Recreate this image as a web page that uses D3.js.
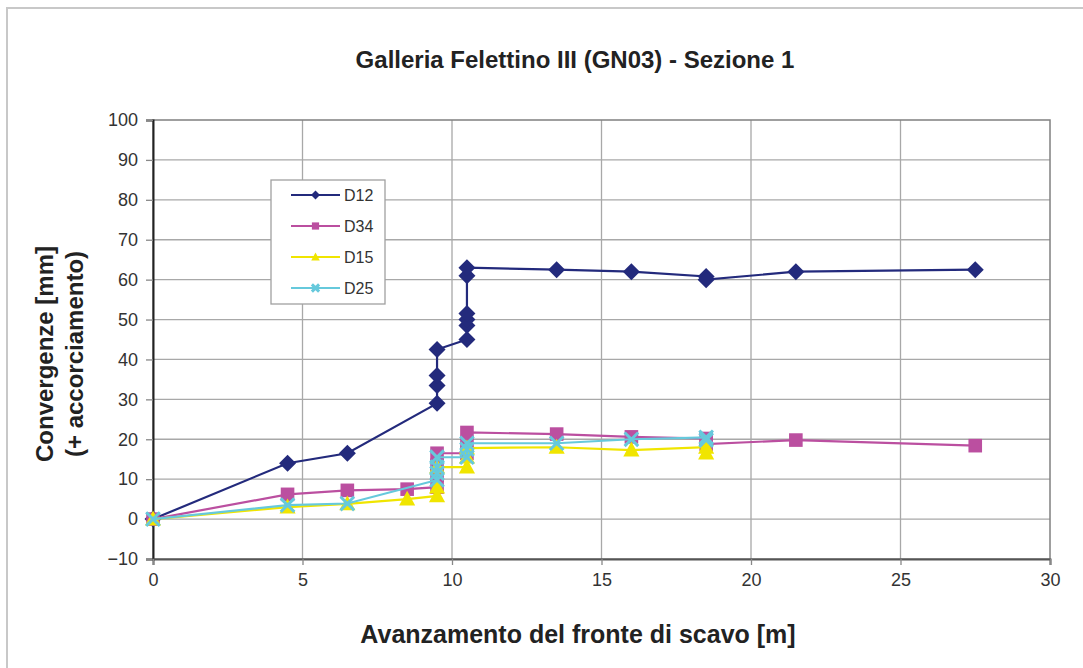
<!DOCTYPE html>
<html><head><meta charset="utf-8">
<script src="https://cdn.jsdelivr.net/npm/d3@7"></script>
<style>body{margin:0;background:#fff;}svg{display:block;font-family:"Liberation Sans",Arial,sans-serif;}</style>
</head><body>
<script>
const seriesNames = ["D12", "D34", "D15", "D25"];
const d12X = [0,4.5,6.5,9.5,9.5,9.5,9.5,10.5,10.5,10.5,10.5,10.5,10.5,13.5,16,18.5,18.5,21.5,27.5];
const d12Y = [0,14,16.5,29,33.5,36,42.5,45,48.5,50,51.5,61,63,62.5,62,60.8,60,62,62.5];
const d34X = [0,4.5,6.5,8.5,9.5,9.5,9.5,9.5,10.5,10.5,10.5,13.5,16,18.5,18.5,21.5,27.5];
const d34Y = [0,6.2,7.2,7.5,8,11,13.5,16.5,16.5,19,21.7,21.3,20.6,20.2,18.8,19.8,18.4];
const d15X = [0,4.5,6.5,8.5,9.5,9.5,9.5,10.5,10.5,10.5,13.5,16,18.5,18.5];
const d15Y = [0,3,3.8,5,5.8,8,13,13,15.5,17.8,18,17.3,18,16.5];
const d25X = [0,4.5,6.5,9.5,9.5,9.5,9.5,10.5,10.5,10.5,13.5,16,18.5,18.5];
const d25Y = [0,3.5,3.9,9.8,11.5,13,15.5,15.5,17.5,19,19,20,20.5,19.8];
const xTicks = [0,5,10,15,20,25,30];
const yTicks = [-10,0,10,20,30,40,50,60,70,80,90,100];

const colors = {D12:"#232a7c", D34:"#bb4fa0", D15:"#f0e500", D25:"#66c9dc"};
const shapes = {D12:"diamond", D34:"square", D15:"triangle", D25:"x"};
const series = [
  {name:"D12", xs:d12X, ys:d12Y},
  {name:"D34", xs:d34X, ys:d34Y},
  {name:"D15", xs:d15X, ys:d15Y},
  {name:"D25", xs:d25X, ys:d25Y}
];

const W = 1083, H = 668;
const svg = d3.select("body").append("svg").attr("width", W).attr("height", H);
svg.append("rect").attr("x",7).attr("y",8).attr("width",W).attr("height",H)
  .attr("fill","#fff").attr("stroke","#c8c8c8").attr("stroke-width",2);

const L = 153, R = 1050, T = 120, B = 559;
const x = d3.scaleLinear().domain([0,30]).range([L,R]);
const y = d3.scaleLinear().domain([-10,100]).range([B,T]);

// grid
const g = svg.append("g");
g.selectAll("line.gx").data(xTicks.slice(1,-1)).enter().append("line")
  .attr("x1",d=>x(d)).attr("x2",d=>x(d)).attr("y1",T).attr("y2",B)
  .attr("stroke","#a8a8a8").attr("stroke-width",1.3);
g.selectAll("line.gy").data(yTicks.slice(1,-1)).enter().append("line")
  .attr("x1",L).attr("x2",R).attr("y1",d=>y(d)).attr("y2",d=>y(d))
  .attr("stroke","#a8a8a8").attr("stroke-width",1.3);
// frame
svg.append("rect").attr("x",L).attr("y",T).attr("width",R-L).attr("height",B-T)
  .attr("fill","none").attr("stroke","#808080").attr("stroke-width",1.5);

// axes
const yAxis = d3.axisLeft(y).tickValues(yTicks).tickSize(7).tickPadding(8).tickFormat(d3.format("d"));
const ya = svg.append("g").attr("transform",`translate(${L},0)`).call(yAxis);
const xa = svg.append("g").attr("transform",`translate(0,${B})`).call(d3.axisBottom(x).tickValues(xTicks).tickSize(6).tickPadding(8).tickFormat(d3.format("d")));
[ya, xa].forEach(a=>{
  a.select(".domain").attr("stroke","#222").attr("stroke-width",2);
  a.selectAll(".tick line").attr("stroke","#888").attr("stroke-width",1.3);
  a.selectAll(".tick text").attr("fill","#333").style("font-size","18px").style("font-family","Liberation Sans, Arial, sans-serif");
});
xa.select(".domain").attr("stroke","#555");

// lines
const line = d3.line().x(d=>x(d[0])).y(d=>y(d[1]));
function marker(sel, shape, color, s){
  if(shape==="diamond"){
    sel.append("path").attr("d",`M0,${-s}L${s},0L0,${s}L${-s},0Z`).attr("fill",color);
  } else if(shape==="square"){
    sel.append("rect").attr("x",-s*0.8).attr("y",-s*0.8).attr("width",s*1.6).attr("height",s*1.6).attr("fill",color);
  } else if(shape==="triangle"){
    sel.append("path").attr("d",`M0,${-s}L${s*0.95},${s*0.75}L${-s*0.95},${s*0.75}Z`).attr("fill",color);
  } else {
    const k=s*0.8;
    sel.append("path").attr("d",`M${-k},${-k}L${k},${k}M${k},${-k}L${-k},${k}`).attr("stroke",color).attr("stroke-width",3).attr("fill","none");
  }
}
series.forEach(sr=>{
  const pts = sr.xs.map((v,i)=>[v, sr.ys[i]]);
  const c = colors[sr.name];
  svg.append("path").datum(pts).attr("d",line).attr("fill","none").attr("stroke",c).attr("stroke-width",2.2);
  svg.append("g").selectAll("g").data(pts).enter().append("g")
    .attr("transform",d=>`translate(${x(d[0])},${y(d[1])})`)
    .each(function(){ marker(d3.select(this), shapes[sr.name], c, 8.5); });
});

// legend
const lg = svg.append("g");
lg.append("rect").attr("x",271).attr("y",180).attr("width",114).attr("height",124)
  .attr("fill","#fff").attr("stroke","#a0a0a0").attr("stroke-width",1.3);
seriesNames.forEach((n,i)=>{
  const yy = 195 + i*31;
  const c = colors[n];
  lg.append("line").attr("x1",291).attr("x2",340).attr("y1",yy).attr("y2",yy).attr("stroke",c).attr("stroke-width",2.2);
  const m = lg.append("g").attr("transform",`translate(315.5,${yy})`);
  marker(m, shapes[n], c, 4.5);
  lg.append("text").attr("x",344).attr("y",yy+6).text(n).attr("fill","#333").style("font-size","16px");
});

// titles
svg.append("text").attr("x",575).attr("y",68).attr("text-anchor","middle")
  .style("font-size","24px").style("font-weight","bold").attr("fill","#222")
  .text("Galleria Felettino III (GN03) - Sezione 1");
svg.append("text").attr("x",578).attr("y",643).attr("text-anchor","middle")
  .style("font-size","25px").style("font-weight","bold").attr("fill","#222")
  .text("Avanzamento del fronte di scavo [m]");
const yl = svg.append("text").attr("transform","translate(53,354) rotate(-90)")
  .attr("text-anchor","middle").style("font-size","24px").style("font-weight","bold").attr("fill","#222");
yl.append("tspan").attr("x",0).attr("dy",0).text("Convergenze [mm]");
yl.append("tspan").attr("x",0).attr("dy",30).text("(+ accorciamento)");
</script>
</body></html>
